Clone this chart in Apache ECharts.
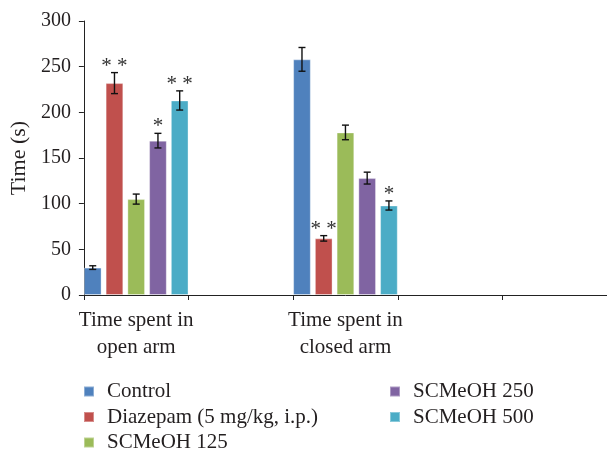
<!DOCTYPE html>
<html>
<head>
<meta charset="utf-8">
<script src="https://cdn.jsdelivr.net/npm/echarts@6/dist/echarts.min.js"></script>
<style>html,body{margin:0;padding:0;background:#fff;}#c{width:607px;height:453px;}</style>
</head>
<body>
<div id="c"></div>
<script>
const categories = ['Time spent in\nopen arm', '', 'Time spent in\nclosed arm', '', ''];
const seriesNames = ['Control', 'Diazepam (5 mg/kg, i.p.)', 'SCMeOH 125', 'SCMeOH 250', 'SCMeOH 500'];
const colors = ['#4F81BD', '#C0504D', '#9BBB59', '#8064A2', '#4BACC6'];
const control    = [30,  null, 258, null, null];
const diazepam   = [232, null, 62,  null, null];
const scmeoh125  = [105, null, 178, null, null];
const scmeoh250  = [169, null, 128, null, null];
const scmeoh500  = [213, null, 98,  null, null];
const errControl   = [2,    null, 13, null, null];
const errDiazepam  = [11.5, null, 3,  null, null];
const errScmeoh125 = [5.5,  null, 8,  null, null];
const errScmeoh250 = [8,    null, 6.5, null, null];
const errScmeoh500 = [10.5, null, 5,  null, null];
const starsControl   = ['', '', '', '', ''];
const starsDiazepam  = ['* *', '', '* *', '', ''];
const starsScmeoh125 = ['', '', '', '', ''];
const starsScmeoh250 = ['*', '', '', '', ''];
const starsScmeoh500 = ['* *', '', '*', '', ''];
const yTicks = { min: 0, max: 300, interval: 50 };

const values = [control, diazepam, scmeoh125, scmeoh250, scmeoh500];
const errs = [errControl, errDiazepam, errScmeoh125, errScmeoh250, errScmeoh500];
const stars = [starsControl, starsDiazepam, starsScmeoh125, starsScmeoh250, starsScmeoh500];

const FONT = 'Liberation Serif';
const TXT = '#231f20';
const GAP = 0.23;
const N = seriesNames.length;

const series = [];
values.forEach((vals, s) => {
  series.push({
    name: seriesNames[s],
    type: 'bar',
    data: vals,
    barGap: (GAP * 100) + '%',
    barCategoryGap: '0%',
    itemStyle: { color: colors[s], borderColor: 'rgba(255,255,255,0.35)', borderWidth: 1 },
    emphasis: { disabled: true }
  });
});
values.forEach((vals, s) => {
  const data = [];
  vals.forEach((v, i) => { if (v != null) data.push([i, v, errs[s][i], stars[s][i]]); });
  series.push({
    name: seriesNames[s] + ' err',
    type: 'custom',
    silent: true,
    z: 5,
    data: data,
    renderItem: function (params, api) {
      const ci = api.value(0), v = api.value(1), e = api.value(2);
      const star = data[params.dataIndex][3];
      const band = api.size([1, 0])[0];
      const bw = band / (N + (N - 1) * GAP);
      const x0 = api.coord([ci, 0])[0];
      const cx = x0 - band / 2 + bw * (s + 0.5) + GAP * bw * s;
      const yt = api.coord([ci, v + e])[1];
      const yb = api.coord([ci, v - e])[1];
      const cap = 3.5;
      const st = { stroke: '#111', lineWidth: 1.4 };
      const children = [
        { type: 'line', shape: { x1: cx, y1: yt, x2: cx, y2: yb }, style: st },
        { type: 'line', shape: { x1: cx - cap, y1: yt, x2: cx + cap, y2: yt }, style: st },
        { type: 'line', shape: { x1: cx - cap, y1: yb, x2: cx + cap, y2: yb }, style: st }
      ];
      if (star) {
        children.push({
          type: 'text',
          style: { text: star, x: cx, y: yt + 4, align: 'center', verticalAlign: 'bottom',
                   font: '21px "' + FONT + '"', fill: '#333' }
        });
      }
      return { type: 'group', children: children };
    }
  });
});

const legendText = { fontFamily: FONT, fontSize: 21, lineHeight: 21, color: TXT, padding: [0, 0, 0, 8] };
const legendBase = { orient: 'vertical', top: 381, icon: 'rect', padding: 0, height: 120,
  itemWidth: 10, itemHeight: 10, itemGap: 4.5, textStyle: legendText, selectedMode: false };
const chart = echarts.init(document.getElementById('c'), null, { renderer: 'canvas' });
chart.setOption({
  animation: false,
  backgroundColor: '#fff',
  grid: { left: 83, right: 0, top: 21, bottom: 158, containLabel: false },
  legend: [
    Object.assign({ data: seriesNames.slice(0, 3), left: 83 }, legendBase),
    Object.assign({ data: seriesNames.slice(3), left: 389 }, legendBase)
  ],
  xAxis: {
    type: 'category',
    data: categories,
    axisLine: { lineStyle: { color: '#222', width: 1 } },
    axisTick: { show: true, interval: 0, length: 5, lineStyle: { color: '#222' } },
    axisLabel: { interval: 0, fontFamily: FONT, fontSize: 21, color: TXT, lineHeight: 27, margin: 12 }
  },
  yAxis: {
    type: 'value',
    min: yTicks.min, max: yTicks.max, interval: yTicks.interval,
    name: 'Time (s)', nameLocation: 'middle', nameGap: 52,
    nameTextStyle: { fontFamily: FONT, fontSize: 22, color: TXT },
    axisLine: { show: true, lineStyle: { color: '#222', width: 1 } },
    axisTick: { show: true, length: 5, lineStyle: { color: '#222' } },
    splitLine: { show: false },
    axisLabel: { fontFamily: FONT, fontSize: 20, color: TXT, margin: 13 }
  },
  series: series
});
</script>
</body>
</html>
